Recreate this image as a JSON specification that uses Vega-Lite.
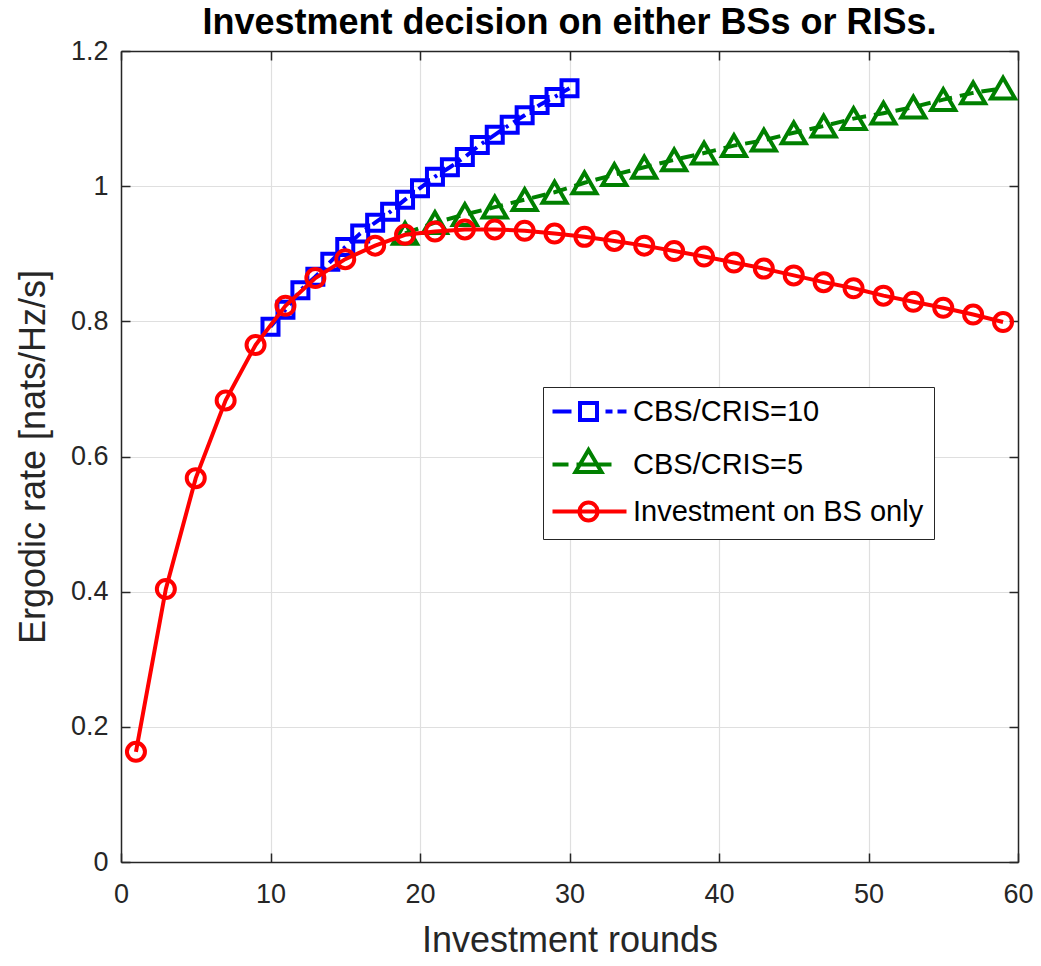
{
  "$schema": "https://vega.github.io/schema/vega-lite/v6.json",
  "width": 897,
  "height": 811,
  "autosize": {"type": "none"},
  "padding": {"left": 121, "top": 51, "right": 23, "bottom": 104},
  "background": "white",
  "title": {
    "text": "Investment decision on either BSs or RISs.",
    "font": "Liberation Sans",
    "fontSize": 36,
    "fontWeight": "bold",
    "color": "#000000",
    "anchor": "middle",
    "offset": -5
  },
  "config": {
    "view": {"stroke": null},
    "font": "Liberation Sans"
  },
  "data": {
    "values": [
      {"series": "CBS/CRIS=10", "round": 10, "rate": 0.792},
      {"series": "CBS/CRIS=10", "round": 11, "rate": 0.817},
      {"series": "CBS/CRIS=10", "round": 12, "rate": 0.846},
      {"series": "CBS/CRIS=10", "round": 13, "rate": 0.866},
      {"series": "CBS/CRIS=10", "round": 14, "rate": 0.888},
      {"series": "CBS/CRIS=10", "round": 15, "rate": 0.910},
      {"series": "CBS/CRIS=10", "round": 16, "rate": 0.930},
      {"series": "CBS/CRIS=10", "round": 17, "rate": 0.946},
      {"series": "CBS/CRIS=10", "round": 18, "rate": 0.962},
      {"series": "CBS/CRIS=10", "round": 19, "rate": 0.980},
      {"series": "CBS/CRIS=10", "round": 20, "rate": 0.997},
      {"series": "CBS/CRIS=10", "round": 21, "rate": 1.014},
      {"series": "CBS/CRIS=10", "round": 22, "rate": 1.028},
      {"series": "CBS/CRIS=10", "round": 23, "rate": 1.043},
      {"series": "CBS/CRIS=10", "round": 24, "rate": 1.061},
      {"series": "CBS/CRIS=10", "round": 25, "rate": 1.076},
      {"series": "CBS/CRIS=10", "round": 26, "rate": 1.091},
      {"series": "CBS/CRIS=10", "round": 27, "rate": 1.105},
      {"series": "CBS/CRIS=10", "round": 28, "rate": 1.120},
      {"series": "CBS/CRIS=10", "round": 29, "rate": 1.132},
      {"series": "CBS/CRIS=10", "round": 30, "rate": 1.145},
      {"series": "CBS/CRIS=5", "round": 19, "rate": 0.930},
      {"series": "CBS/CRIS=5", "round": 21, "rate": 0.946},
      {"series": "CBS/CRIS=5", "round": 23, "rate": 0.958},
      {"series": "CBS/CRIS=5", "round": 25, "rate": 0.969},
      {"series": "CBS/CRIS=5", "round": 27, "rate": 0.980},
      {"series": "CBS/CRIS=5", "round": 29, "rate": 0.991},
      {"series": "CBS/CRIS=5", "round": 31, "rate": 1.005},
      {"series": "CBS/CRIS=5", "round": 33, "rate": 1.017},
      {"series": "CBS/CRIS=5", "round": 35, "rate": 1.028},
      {"series": "CBS/CRIS=5", "round": 37, "rate": 1.039},
      {"series": "CBS/CRIS=5", "round": 39, "rate": 1.049},
      {"series": "CBS/CRIS=5", "round": 41, "rate": 1.060},
      {"series": "CBS/CRIS=5", "round": 43, "rate": 1.068},
      {"series": "CBS/CRIS=5", "round": 45, "rate": 1.079},
      {"series": "CBS/CRIS=5", "round": 47, "rate": 1.089},
      {"series": "CBS/CRIS=5", "round": 49, "rate": 1.100},
      {"series": "CBS/CRIS=5", "round": 51, "rate": 1.108},
      {"series": "CBS/CRIS=5", "round": 53, "rate": 1.117},
      {"series": "CBS/CRIS=5", "round": 55, "rate": 1.128},
      {"series": "CBS/CRIS=5", "round": 57, "rate": 1.138},
      {"series": "CBS/CRIS=5", "round": 59, "rate": 1.145},
      {"series": "Investment on BS only", "round": 1, "rate": 0.163},
      {"series": "Investment on BS only", "round": 3, "rate": 0.404},
      {"series": "Investment on BS only", "round": 5, "rate": 0.568},
      {"series": "Investment on BS only", "round": 7, "rate": 0.683},
      {"series": "Investment on BS only", "round": 9, "rate": 0.765},
      {"series": "Investment on BS only", "round": 11, "rate": 0.823},
      {"series": "Investment on BS only", "round": 13, "rate": 0.864},
      {"series": "Investment on BS only", "round": 15, "rate": 0.892},
      {"series": "Investment on BS only", "round": 17, "rate": 0.912},
      {"series": "Investment on BS only", "round": 19, "rate": 0.928},
      {"series": "Investment on BS only", "round": 21, "rate": 0.933},
      {"series": "Investment on BS only", "round": 23, "rate": 0.936},
      {"series": "Investment on BS only", "round": 25, "rate": 0.936},
      {"series": "Investment on BS only", "round": 27, "rate": 0.934},
      {"series": "Investment on BS only", "round": 29, "rate": 0.930},
      {"series": "Investment on BS only", "round": 31, "rate": 0.925},
      {"series": "Investment on BS only", "round": 33, "rate": 0.919},
      {"series": "Investment on BS only", "round": 35, "rate": 0.912},
      {"series": "Investment on BS only", "round": 37, "rate": 0.904},
      {"series": "Investment on BS only", "round": 39, "rate": 0.896},
      {"series": "Investment on BS only", "round": 41, "rate": 0.887},
      {"series": "Investment on BS only", "round": 43, "rate": 0.878},
      {"series": "Investment on BS only", "round": 45, "rate": 0.868},
      {"series": "Investment on BS only", "round": 47, "rate": 0.858},
      {"series": "Investment on BS only", "round": 49, "rate": 0.849},
      {"series": "Investment on BS only", "round": 51, "rate": 0.838},
      {"series": "Investment on BS only", "round": 53, "rate": 0.829},
      {"series": "Investment on BS only", "round": 55, "rate": 0.820},
      {"series": "Investment on BS only", "round": 57, "rate": 0.810},
      {"series": "Investment on BS only", "round": 59, "rate": 0.799}
    ]
  },
  "encoding": {
    "x": {"field": "round", "type": "quantitative", "scale": {"domain": [0, 60], "nice": false, "zero": false}, "axis": null},
    "y": {"field": "rate", "type": "quantitative", "scale": {"domain": [0, 1.2], "nice": false, "zero": false}, "axis": null}
  },
  "layer": [
    {
      "transform": [{"filter": "false"}],
      "mark": {"type": "point", "opacity": 0},
      "encoding": {
        "x": {
          "field": "round", "type": "quantitative",
          "scale": {"domain": [0, 60], "nice": false, "zero": false},
          "axis": {
            "orient": "bottom",
            "values": [0, 10, 20, 30, 40, 50, 60],
            "format": "d",
            "grid": true, "gridColor": "#dfdfdf", "gridWidth": 1.2,
            "domainColor": "#262626", "domainWidth": 1.5,
            "tickColor": "#262626", "tickWidth": 1.5, "tickSize": -9,
            "labelFontSize": 27, "labelColor": "#262626", "labelPadding": 28,
            "labelFlush": false,
            "title": "Investment rounds", "titleFontSize": 36, "titleFontWeight": "normal",
            "titleColor": "#262626", "titlePadding": 16
          }
        },
        "y": {
          "field": "rate", "type": "quantitative",
          "scale": {"domain": [0, 1.2], "nice": false, "zero": false},
          "axis": {
            "orient": "left",
            "values": [0, 0.2, 0.4, 0.6, 0.8, 1, 1.2],
            "labelExpr": "datum.value == 0 ? '0' : datum.value == 1 ? '1' : format(datum.value, '.1f')",
            "grid": true, "gridColor": "#dfdfdf", "gridWidth": 1.2,
            "domainColor": "#262626", "domainWidth": 1.5,
            "tickColor": "#262626", "tickWidth": 1.5, "tickSize": -9,
            "labelFontSize": 27, "labelColor": "#262626", "labelPadding": 22,
            "labelFlush": false,
            "title": "Ergodic rate [nats/Hz/s]", "titleFontSize": 36, "titleFontWeight": "normal",
            "titleColor": "#262626", "titlePadding": 18
          }
        }
      }
    },
    {
      "transform": [{"filter": "false"}],
      "mark": {"type": "point", "opacity": 0},
      "encoding": {
        "x": {
          "field": "round", "type": "quantitative",
          "scale": {"domain": [0, 60], "nice": false, "zero": false},
          "axis": {
            "orient": "top", "values": [0, 10, 20, 30, 40, 50, 60],
            "grid": false, "labels": false, "title": null,
            "domainColor": "#262626", "domainWidth": 1.5,
            "tickColor": "#262626", "tickWidth": 1.5, "tickSize": -9
          }
        },
        "y": {
          "field": "rate", "type": "quantitative",
          "scale": {"domain": [0, 1.2], "nice": false, "zero": false},
          "axis": {
            "orient": "right", "values": [0, 0.2, 0.4, 0.6, 0.8, 1, 1.2],
            "grid": false, "labels": false, "title": null,
            "domainColor": "#262626", "domainWidth": 1.5,
            "tickColor": "#262626", "tickWidth": 1.5, "tickSize": -9
          }
        }
      }
    },
    {
      "transform": [{"filter": {"field": "series", "equal": "CBS/CRIS=10"}}],
      "mark": {"type": "line", "color": "#0000ff", "strokeWidth": 4, "strokeDash": [14, 6, 3, 6]}
    },
    {
      "transform": [{"filter": {"field": "series", "equal": "CBS/CRIS=10"}}],
      "mark": {"type": "point", "shape": "square", "size": 256, "filled": false, "color": "#0000ff", "strokeWidth": 4, "opacity": 1}
    },
    {
      "transform": [{"filter": {"field": "series", "equal": "CBS/CRIS=5"}}],
      "mark": {"type": "line", "color": "#008000", "strokeWidth": 4, "strokeDash": [14, 8]}
    },
    {
      "transform": [{"filter": {"field": "series", "equal": "CBS/CRIS=5"}}],
      "mark": {"type": "point", "shape": "triangle-up", "size": 576, "filled": false, "color": "#008000", "strokeWidth": 4, "opacity": 1}
    },
    {
      "transform": [{"filter": {"field": "series", "equal": "Investment on BS only"}}],
      "mark": {"type": "line", "color": "#ff0000", "strokeWidth": 4}
    },
    {
      "transform": [{"filter": {"field": "series", "equal": "Investment on BS only"}}],
      "mark": {"type": "point", "shape": "circle", "size": 324, "filled": false, "color": "#ff0000", "strokeWidth": 4, "opacity": 1}
    },
    {
      "transform": [{"filter": "false"}],
      "mark": {"type": "point", "filled": false, "strokeWidth": 4, "opacity": 1},
      "encoding": {
        "color": {
          "field": "series", "type": "nominal",
          "scale": {
            "domain": ["CBS/CRIS=10", "CBS/CRIS=5", "Investment on BS only"],
            "range": ["#0000ff", "#008000", "#ff0000"]
          },
          "legend": {
            "orient": "none", "legendX": 422, "legendY": 336,
            "title": null, "padding": 10,
            "strokeColor": "#262626", "fillColor": "#ffffff",
            "labelFontSize": 29, "labelColor": "#000000", "labelFont": "Liberation Sans",
            "labelLimit": 400,
            "rowPadding": 14, "symbolSize": 400, "symbolStrokeWidth": 4,
            "symbolOffset": 21, "labelOffset": 30,
            "encode": {
              "legend": {"update": {"strokeWidth": {"value": 1.5}}},
              "labels": {"update": {"fontSize": {"signal": "datum.value === 'Investment on BS only' ? 29 : 27"}}}
            }
          }
        },
        "shape": {
          "field": "series", "type": "nominal",
          "scale": {
            "domain": ["CBS/CRIS=10", "CBS/CRIS=5", "Investment on BS only"],
            "range": [
              "M-3.6,0H-1.7M-0.85,-0.85H0.85V0.85H-0.85ZM1.7,0H2.4M2.9,0H3.8",
              "M-3.6,0H-2.0M-1.2,0H2.3M0,-1.45L1.3,0.75L-1.3,0.75Z",
              "M-3.6,0H3.8M-0.9,0A0.9,0.9 0 1,0 0.9,0A0.9,0.9 0 1,0 -0.9,0Z"
            ]
          },
          "legend": {
            "orient": "none", "legendX": 422, "legendY": 336,
            "title": null, "padding": 10,
            "strokeColor": "#262626", "fillColor": "#ffffff",
            "labelFontSize": 29, "labelColor": "#000000", "labelFont": "Liberation Sans",
            "labelLimit": 400,
            "rowPadding": 14, "symbolSize": 400, "symbolStrokeWidth": 4,
            "symbolOffset": 21, "labelOffset": 30,
            "encode": {
              "legend": {"update": {"strokeWidth": {"value": 1.5}}},
              "labels": {"update": {"fontSize": {"signal": "datum.value === 'Investment on BS only' ? 29 : 27"}}}
            }
          }
        }
      }
    }
  ],
  "resolve": {"axis": {"x": "independent", "y": "independent"}}
}
